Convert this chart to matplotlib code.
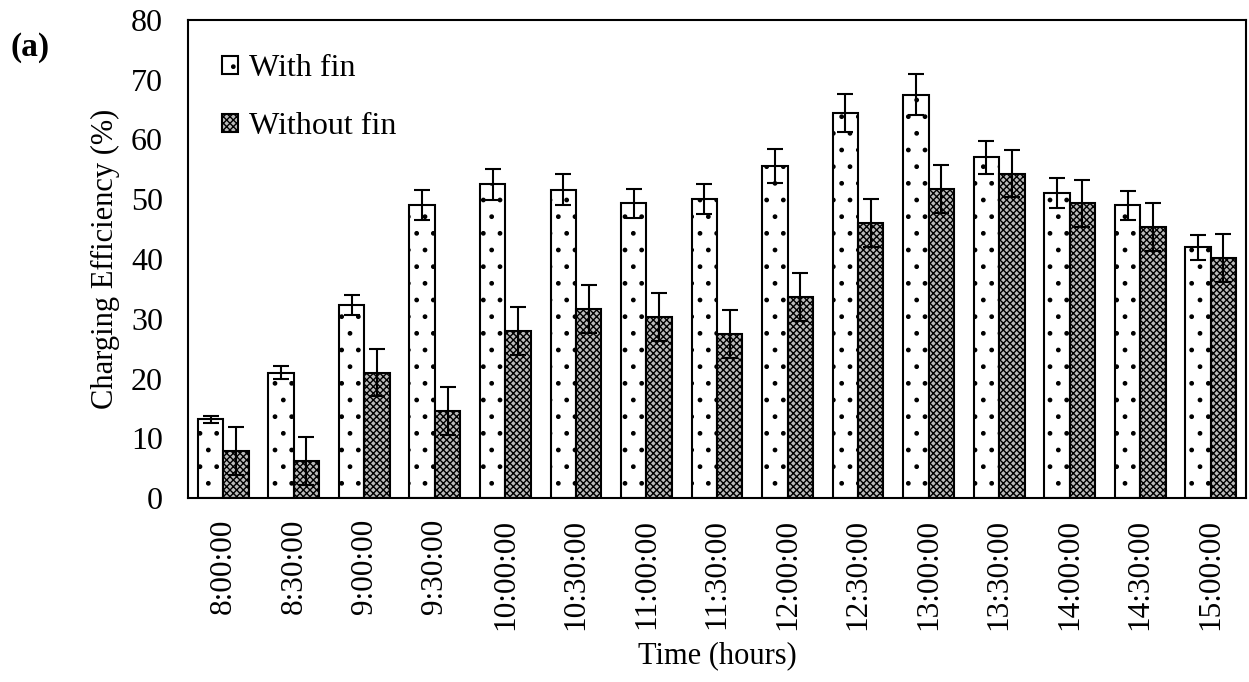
import matplotlib.pyplot as plt
import numpy as np

plt.rcParams['font.family'] = ['Liberation Serif', 'DejaVu Serif']
plt.rcParams['hatch.linewidth'] = 1.0

times = ['8:00:00', '8:30:00', '9:00:00', '9:30:00', '10:00:00', '10:30:00', '11:00:00',
         '11:30:00', '12:00:00', '12:30:00', '13:00:00', '13:30:00', '14:00:00', '14:30:00', '15:00:00']
with_fin = [13.2, 21.0, 32.3, 49.0, 52.5, 51.6, 49.3, 50.0, 55.6, 64.4, 67.5, 57.0, 51.0, 49.0, 42.0]
with_fin_err = [0.6, 1.1, 1.6, 2.5, 2.6, 2.6, 2.4, 2.5, 2.8, 3.2, 3.4, 2.8, 2.5, 2.4, 2.1]
without_fin = [7.8, 6.2, 21.0, 14.6, 28.0, 31.6, 30.3, 27.5, 33.6, 46.0, 51.7, 54.3, 49.3, 45.3, 40.2]
without_fin_err = [4.0, 4.0, 4.0, 4.0, 4.0, 4.0, 4.0, 4.0, 4.0, 4.0, 4.0, 4.0, 4.0, 4.0, 4.0]

fig = plt.figure(figsize=(12.49, 6.82), dpi=100)
ax = fig.add_axes([188 / 1249, 1 - 498 / 682, (1246 - 188) / 1249, (498 - 20) / 682])

x = np.arange(len(times))
w = 0.36
err_kw = dict(ecolor='black', elinewidth=1.5, capsize=6, capthick=1.5)

ax.bar(x - w / 2, with_fin, w, yerr=with_fin_err, color='white', edgecolor='black',
       linewidth=1.5, hatch='.', label='With fin', error_kw=err_kw)
ax.bar(x + w / 2, without_fin, w, yerr=without_fin_err, color='#bbbbbb', edgecolor='black',
       linewidth=1.5, hatch='xxxxx', label='Without fin', error_kw=err_kw)

ax.set_xlim(-0.5, len(times) - 0.5)
ax.set_ylim(0, 80)
ax.set_yticks(range(0, 81, 10))
ax.set_xticks(x)
ax.set_xticklabels(times, rotation=90, fontsize=22.5)
ax.tick_params(axis='y', labelsize=23, length=0, pad=18)
ax.tick_params(axis='x', length=0, pad=15)
for s in ax.spines.values():
    s.set_linewidth(1.5)

ax.set_ylabel('Charging Efficiency (%)', fontsize=22, labelpad=8)
ax.set_xlabel('Time (hours)', fontsize=22, labelpad=8)

ax.legend(loc='upper left', frameon=False, fontsize=23, handlelength=0.5, handleheight=0.5,
          handletextpad=0.35, labelspacing=0.9, borderaxespad=0, bbox_to_anchor=(0.02, 0.955))

fig.text(10 / 1249, 1 - 56 / 682, '(a)', fontsize=24, fontweight='bold', va='baseline')

fig.savefig('out.png', dpi=100)
